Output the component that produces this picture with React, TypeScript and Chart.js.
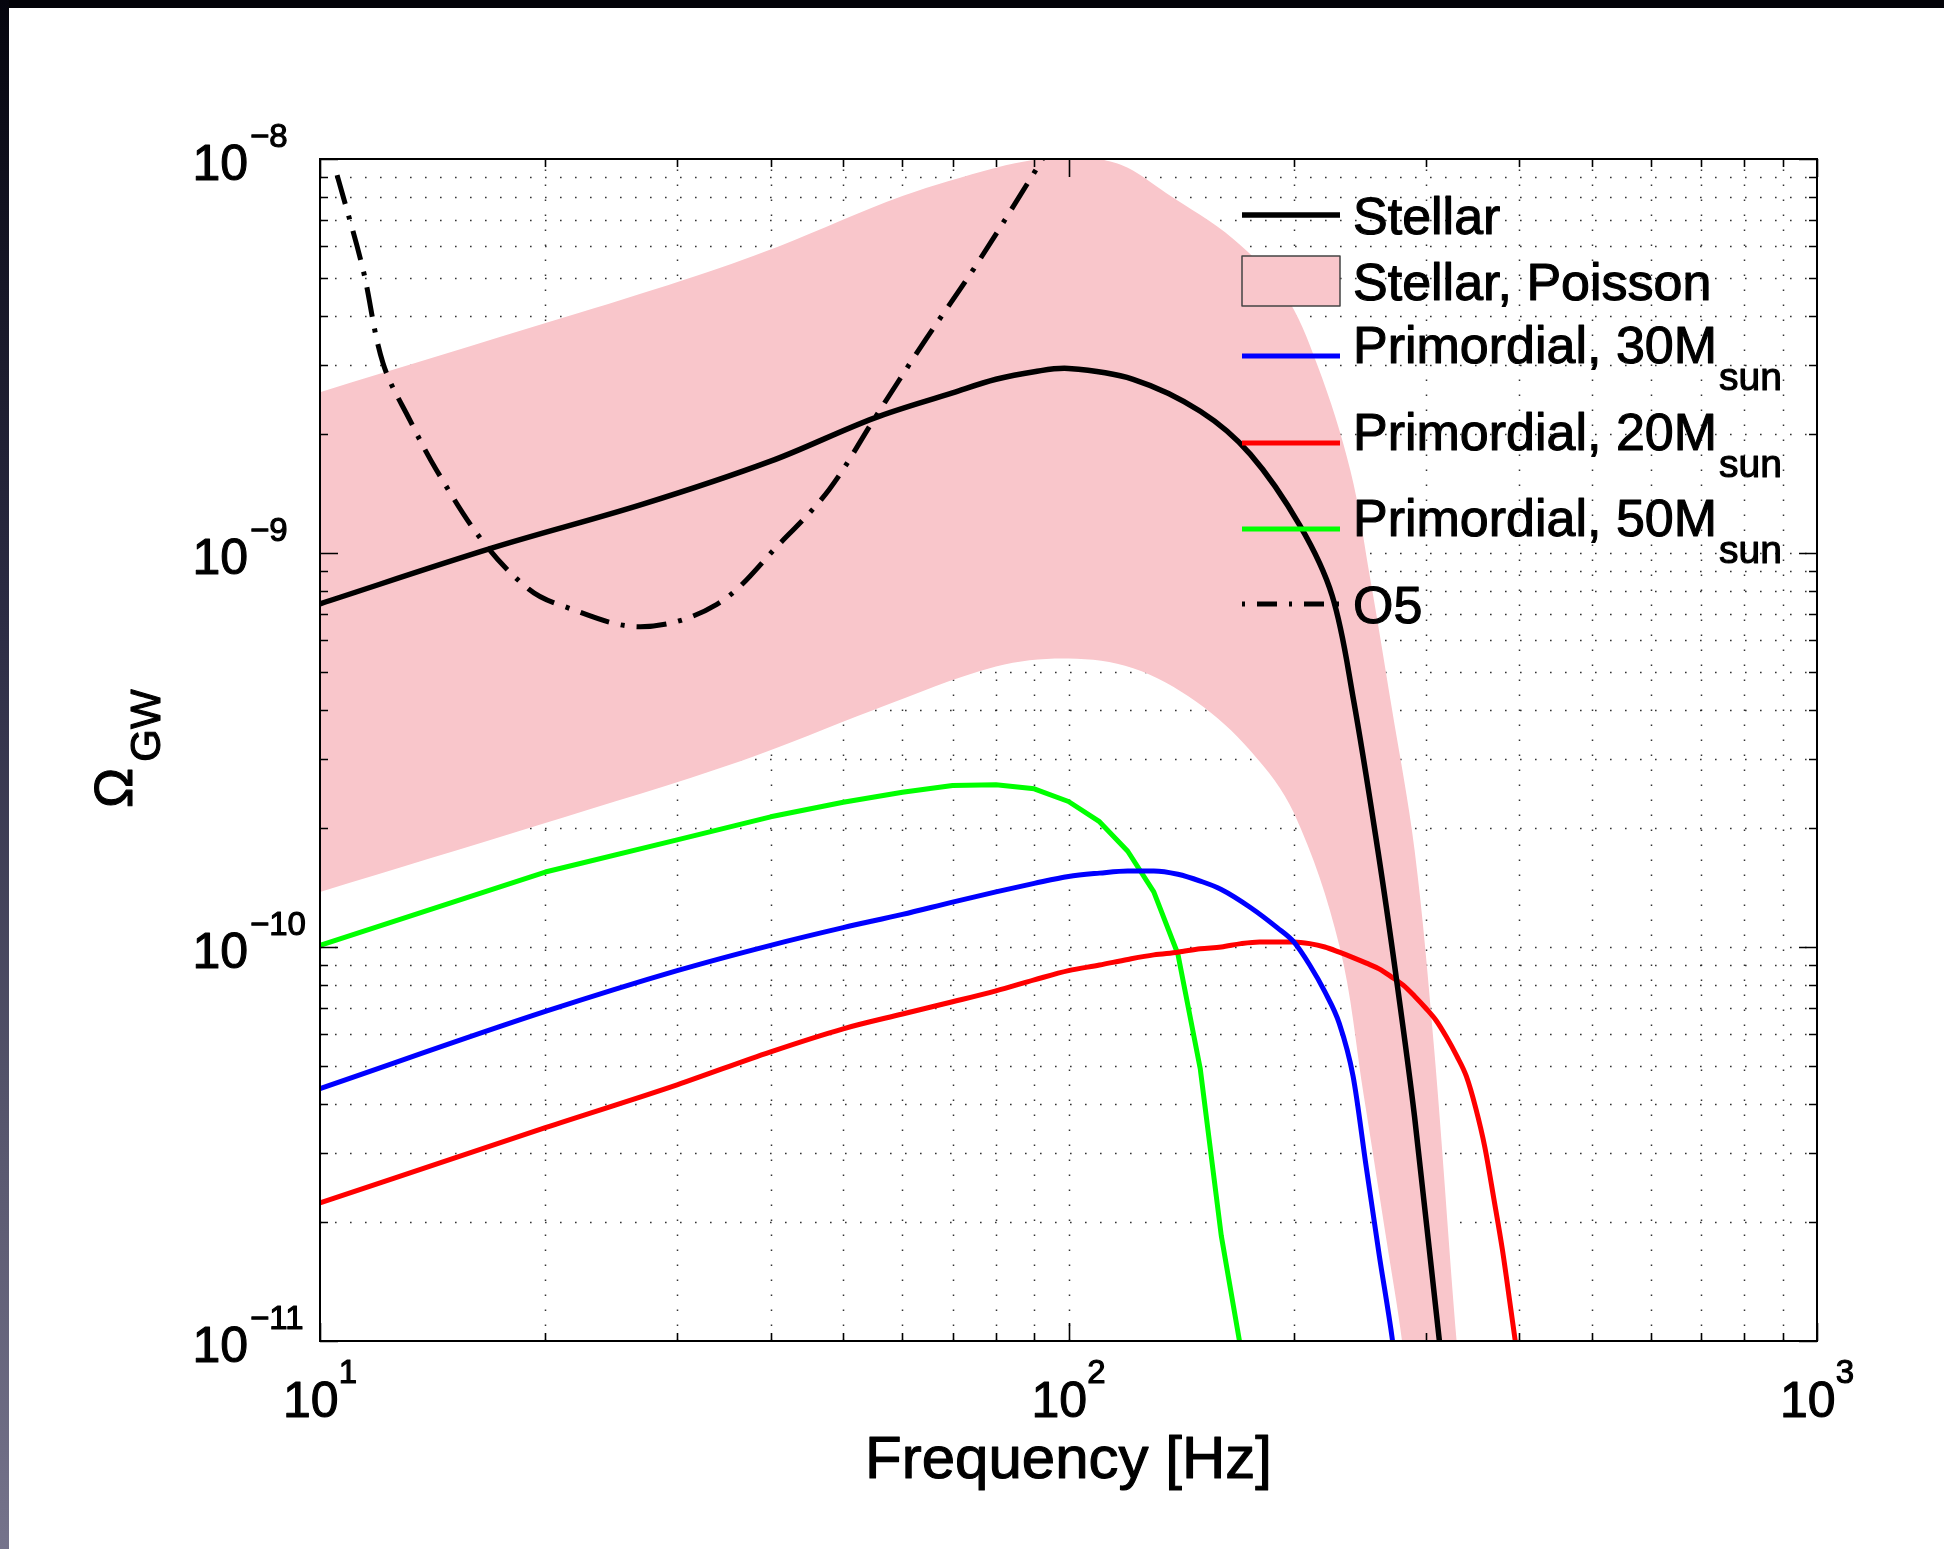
import React, { useEffect, useRef } from "react";
import { Chart, registerables } from "chart.js";

Chart.register(...registerables);

// ---------------- data ----------------
const stellarFreq = [10, 17, 27, 40, 55, 70, 80, 90, 100, 122, 150, 175, 204, 225, 240, 259, 274, 290, 313, 320];
const stellarOmega = [7.43e-10, 1.03e-9, 1.33e-9, 1.71e-9, 2.2e-9, 2.55e-9, 2.76e-9, 2.885e-9, 2.94e-9, 2.76e-9, 2.29e-9, 1.78e-9, 1.17e-9, 7.8e-10, 4.3e-10, 1.76e-10, 8.4e-11, 3.7e-11, 1.0e-11, 7.5e-12];

const poissonUpperFreq = [10, 21, 30.6, 41, 60, 80, 90, 100, 110, 120, 135, 166, 194, 215, 238, 253, 270, 290, 308, 330, 345, 400];
const poissonUpperOmega = [2.56e-9, 3.94e-9, 4.93e-9, 6.0e-9, 8.05e-9, 9.5e-9, 9.95e-9, 1.03e-8, 1.0e-8, 9.5e-9, 8.2e-9, 6.27e-9, 4.57e-9, 3.0e-9, 1.62e-9, 8.6e-10, 4.1e-10, 1.76e-10, 5.5e-11, 1.0e-11, 4e-12, 1e-13];

const poissonLowerFreq = [10, 19.6, 36.6, 55, 80, 100, 122, 148, 175, 200, 230, 248, 266, 279, 290, 400];
const poissonLowerOmega = [1.38e-10, 2.04e-10, 2.97e-10, 4.0e-10, 5.15e-10, 5.4e-10, 5.1e-10, 4.2e-10, 3.15e-10, 2.19e-10, 1.01e-10, 4.2e-11, 1.8e-11, 1.0e-11, 5e-12, 1e-13];

const prim30Freq = [10, 20, 30, 40, 50, 60, 70, 80, 90, 100, 110, 120, 130, 140, 150, 160, 175, 190, 200, 210, 220, 230, 240, 250, 260, 271, 280];
const prim30Omega = [4.37e-11, 6.86e-11, 8.71e-11, 1.01e-10, 1.12e-10, 1.21e-10, 1.3e-10, 1.38e-10, 1.45e-10, 1.51e-10, 1.54e-10, 1.56e-10, 1.56e-10, 1.53e-10, 1.47e-10, 1.4e-10, 1.26e-10, 1.12e-10, 1.03e-10, 9.0e-11, 7.7e-11, 6.4e-11, 4.7e-11, 2.75e-11, 1.66e-11, 1.0e-11, 6e-12];

const prim20Freq = [10, 20, 30, 40, 50, 60, 70, 80, 90, 100, 110, 120, 130, 140, 150, 160, 170, 180, 190, 200, 210, 220, 230, 240, 250, 260, 270, 280, 290, 300, 310, 320, 330, 340, 350, 360, 370, 380, 390, 400];
const prim20Omega = [2.24e-11, 3.48e-11, 4.47e-11, 5.42e-11, 6.2e-11, 6.76e-11, 7.26e-11, 7.74e-11, 8.25e-11, 8.71e-11, 9.0e-11, 9.3e-11, 9.55e-11, 9.7e-11, 9.9e-11, 1.0e-10, 1.02e-10, 1.03e-10, 1.03e-10, 1.03e-10, 1.02e-10, 1.0e-10, 9.7e-11, 9.4e-11, 9.1e-11, 8.8e-11, 8.4e-11, 8.0e-11, 7.5e-11, 7.0e-11, 6.5e-11, 5.9e-11, 5.3e-11, 4.7e-11, 3.9e-11, 3.1e-11, 2.3e-11, 1.7e-11, 1.2e-11, 8.5e-12];

const prim50Freq = [10, 20, 30, 40, 50, 60, 70, 80, 90, 100, 110, 120, 130, 140, 150, 160, 170];
const prim50Omega = [1.01e-10, 1.55e-10, 1.87e-10, 2.14e-10, 2.33e-10, 2.47e-10, 2.57e-10, 2.58e-10, 2.52e-10, 2.34e-10, 2.08e-10, 1.75e-10, 1.38e-10, 9.6e-11, 4.9e-11, 1.85e-11, 9.5e-12];

const o5Freq = [10.54, 11.4, 12.14, 13.19, 14.32, 16.5, 19.0, 21.0, 26.8, 33.9, 41.2, 47.9, 55.1, 64.5, 74.8, 90.2, 95];
const o5Omega = [9.1e-9, 5.3e-9, 3.03e-9, 2.17e-9, 1.62e-9, 1.07e-9, 8.1e-10, 7.36e-10, 6.5e-10, 7.41e-10, 1.06e-9, 1.45e-9, 2.2e-9, 3.49e-9, 5.28e-9, 9.3e-9, 1.1e-8];

const xMajorTicks = [10, 100, 1000];
const xMajorExponents = ["1", "2", "3"];
const xMinorTicks = [20, 30, 40, 50, 60, 70, 80, 90, 200, 300, 400, 500, 600, 700, 800, 900];
const yMajorTicks = [1e-11, 1e-10, 1e-9, 1e-8];
const yMajorExponents = ["\u221211", "\u221210", "\u22129", "\u22128"];
const yMinorTicks = [
  2e-11, 3e-11, 4e-11, 5e-11, 6e-11, 7e-11, 8e-11, 9e-11,
  2e-10, 3e-10, 4e-10, 5e-10, 6e-10, 7e-10, 8e-10, 9e-10,
  2e-9, 3e-9, 4e-9, 5e-9, 6e-9, 7e-9, 8e-9, 9e-9,
];

const xAxisTitle = "Frequency [Hz]";
const yAxisSymbol = "\u03A9";
const yAxisSubscript = "GW";

const legendLabels = ["Stellar", "Stellar, Poisson", "Primordial, 30M", "Primordial, 20M", "Primordial, 50M", "O5"];
const legendSubscripts = ["", "", "sun", "sun", "sun", ""];

// ---------------- styles ----------------
const FONT = "'Liberation Sans', Arial, Helvetica, sans-serif";
const PINK = "#F9C6CB";
const BLUE = "#0000FF";
const RED = "#FF0000";
const GREEN = "#00FF00";
const DASHDOT = [30, 12, 4, 12];

const pts = (f: number[], o: number[]) => f.map((v, i) => ({ x: v, y: o[i] }));

const legendKinds = ["line", "patch", "line", "line", "line", "dashdot"];
const legendColors = ["#000000", PINK, BLUE, RED, GREEN, "#000000"];
const legendRowOffsets = [56, 122, 197, 284, 370, 445];

function heavyText(ctx: CanvasRenderingContext2D, s: string, x: number, y: number) {
  ctx.fillText(s, x, y);
  ctx.strokeText(s, x, y);
}

const matlabPlugin = {
  id: "matlabLook",
  beforeDatasetsDraw(chart: any) {
    const { ctx, chartArea: a, scales } = chart;
    const x = scales.x, y = scales.y;
    ctx.save();
    ctx.strokeStyle = "rgba(30,30,30,0.9)";
    ctx.lineWidth = 1.5;
    ctx.setLineDash([1.6, 13.4]);
    [...xMajorTicks, ...xMinorTicks].forEach((v) => {
      const px = Math.round(x.getPixelForValue(v)) + 0.5;
      if (px <= a.left + 2 || px >= a.right - 2) return;
      ctx.beginPath();
      ctx.moveTo(px, a.bottom);
      ctx.lineTo(px, a.top);
      ctx.stroke();
    });
    [...yMajorTicks, ...yMinorTicks].forEach((v) => {
      const py = Math.round(y.getPixelForValue(v)) + 0.5;
      if (py <= a.top + 2 || py >= a.bottom - 2) return;
      ctx.beginPath();
      ctx.moveTo(a.left, py);
      ctx.lineTo(a.right, py);
      ctx.stroke();
    });
    ctx.restore();
  },
  afterDatasetsDraw(chart: any) {
    const { ctx, chartArea: a, scales } = chart;
    const x = scales.x, y = scales.y;
    ctx.save();
    ctx.setLineDash([]);
    ctx.strokeStyle = "#000";
    ctx.lineWidth = 1.6;
    const tick = (v: number, major: boolean, horiz: boolean) => {
      const L = major ? 18 : 8;
      ctx.beginPath();
      if (horiz) {
        const px = Math.round(x.getPixelForValue(v)) + 0.5;
        ctx.moveTo(px, a.bottom); ctx.lineTo(px, a.bottom - L);
        ctx.moveTo(px, a.top); ctx.lineTo(px, a.top + L);
      } else {
        const py = Math.round(y.getPixelForValue(v)) + 0.5;
        ctx.moveTo(a.left, py); ctx.lineTo(a.left + L, py);
        ctx.moveTo(a.right, py); ctx.lineTo(a.right - L, py);
      }
      ctx.stroke();
    };
    xMajorTicks.forEach((v) => tick(v, true, true));
    xMinorTicks.forEach((v) => tick(v, false, true));
    yMajorTicks.forEach((v) => tick(v, true, false));
    yMinorTicks.forEach((v) => tick(v, false, false));
    ctx.lineWidth = 2;
    ctx.strokeRect(a.left, a.top, a.right - a.left, a.bottom - a.top);
    ctx.restore();
  },
  afterDraw(chart: any) {
    const { ctx, chartArea: a, scales } = chart;
    const x = scales.x, y = scales.y;
    ctx.save();
    ctx.fillStyle = "#000";
    ctx.strokeStyle = "#000";
    ctx.lineWidth = 1.1;
    ctx.lineJoin = "round";
    ctx.textBaseline = "alphabetic";

    // x tick labels
    xMajorTicks.forEach((v, i) => {
      const px = x.getPixelForValue(v);
      ctx.font = `50px ${FONT}`;
      const wb = ctx.measureText("10").width;
      ctx.font = `33px ${FONT}`;
      const we = ctx.measureText(xMajorExponents[i]).width;
      const start = px - (wb + we) / 2;
      const base = a.bottom + 76;
      ctx.textAlign = "left";
      ctx.font = `50px ${FONT}`;
      heavyText(ctx, "10", start, base);
      ctx.font = `33px ${FONT}`;
      heavyText(ctx, xMajorExponents[i], start + wb, base - 34);
    });

    // y tick labels
    yMajorTicks.forEach((v, i) => {
      const py = y.getPixelForValue(v);
      const base = py + 21;
      ctx.textAlign = "right";
      ctx.font = `50px ${FONT}`;
      heavyText(ctx, "10", a.left - 72, base);
      ctx.textAlign = "left";
      ctx.font = `33px ${FONT}`;
      heavyText(ctx, yMajorExponents[i], a.left - 70, base - 33);
    });

    // x title
    ctx.textAlign = "center";
    ctx.font = `60px ${FONT}`;
    heavyText(ctx, xAxisTitle, (a.left + a.right) / 2, a.bottom + 137);

    // y title (rotated)
    ctx.save();
    ctx.translate(a.left - 188, (a.top + a.bottom) / 2 + 58);
    ctx.rotate(-Math.PI / 2);
    ctx.textAlign = "left";
    ctx.font = `54px ${FONT}`;
    heavyText(ctx, yAxisSymbol, 0, 0);
    const wo = ctx.measureText(yAxisSymbol).width;
    ctx.font = `42px ${FONT}`;
    heavyText(ctx, yAxisSubscript, wo + 6, 28);
    ctx.restore();

    // legend
    const x0 = a.right - 575, x1 = a.right - 477, tx = a.right - 464;
    legendLabels.forEach((label, i) => {
      const cy = a.top + legendRowOffsets[i];
      const kind = legendKinds[i];
      ctx.save();
      if (kind === "patch") {
        ctx.fillStyle = legendColors[i];
        ctx.fillRect(x0, cy - 25, x1 - x0, 50);
        ctx.strokeStyle = "#444";
        ctx.lineWidth = 1.5;
        ctx.strokeRect(x0, cy - 25, x1 - x0, 50);
      } else {
        ctx.strokeStyle = legendColors[i];
        ctx.lineWidth = kind === "dashdot" ? 5 : i === 0 ? 5.5 : 5;
        ctx.lineCap = "butt";
        ctx.setLineDash(kind === "dashdot" ? [3, 12, 20, 12] : []);
        ctx.beginPath();
        ctx.moveTo(x0, cy);
        ctx.lineTo(x1, cy);
        ctx.stroke();
      }
      ctx.restore();
      const sub = legendSubscripts[i];
      const base = sub ? cy + 7 : cy + 19;
      ctx.textAlign = "left";
      ctx.font = `52px ${FONT}`;
      heavyText(ctx, label, tx, base);
      if (sub) {
        const w = ctx.measureText(label).width;
        ctx.font = `39px ${FONT}`;
        heavyText(ctx, sub, tx + w + 2, base + 27);
      }
    });
    ctx.restore();
  },
};

export default function App() {
  const canvasRef = useRef<HTMLCanvasElement | null>(null);

  useEffect(() => {
    document.body.style.margin = "0";
    const canvas = canvasRef.current;
    if (!canvas) return;
    const W = 1944, H = 1549;
    const plotLeft = 320, plotTop = 159, plotRight = 1817, plotBottom = 1341;

    const common = { pointRadius: 0, pointHoverRadius: 0, clip: 0, borderCapStyle: "butt", borderJoinStyle: "round" };
    const smooth = { cubicInterpolationMode: "default", tension: 0.35 };

    const chart = new Chart(canvas, {
      type: "line",
      data: {
        datasets: [
          { label: "Stellar", data: pts(stellarFreq, stellarOmega), borderColor: "#000", borderWidth: 5.5, fill: false, order: 1, ...smooth, ...common },
          { label: "Primordial, 30Msun", data: pts(prim30Freq, prim30Omega), borderColor: BLUE, borderWidth: 5, cubicInterpolationMode: "monotone", fill: false, order: 2, ...common },
          { label: "Primordial, 20Msun", data: pts(prim20Freq, prim20Omega), borderColor: RED, borderWidth: 5, cubicInterpolationMode: "monotone", fill: false, order: 3, ...common },
          { label: "Primordial, 50Msun", data: pts(prim50Freq, prim50Omega), borderColor: GREEN, borderWidth: 5, tension: 0, fill: false, order: 4, ...common },
          { label: "O5", data: pts(o5Freq, o5Omega), borderColor: "#000", borderWidth: 5, borderDash: DASHDOT, fill: false, order: 0, ...smooth, ...common },
          { label: "Stellar, Poisson (upper)", data: pts(poissonUpperFreq, poissonUpperOmega), borderWidth: 0, borderColor: "rgba(0,0,0,0)", backgroundColor: PINK, fill: 6, order: 10, ...smooth, ...common },
          { label: "Stellar, Poisson (lower)", data: pts(poissonLowerFreq, poissonLowerOmega), borderWidth: 0, borderColor: "rgba(0,0,0,0)", fill: false, order: 11, ...smooth, ...common },
        ] as any,
      },
      options: {
        responsive: false,
        maintainAspectRatio: false,
        devicePixelRatio: 1,
        animation: false,
        events: [],
        layout: { padding: { left: plotLeft, top: plotTop, right: W - plotRight, bottom: H - plotBottom } },
        plugins: { legend: { display: false }, tooltip: { enabled: false }, title: { display: false } },
        scales: {
          x: { type: "logarithmic", min: 10, max: 1000, display: false },
          y: { type: "logarithmic", min: 1e-11, max: 1e-8, display: false },
        },
      } as any,
      plugins: [matlabPlugin],
    });
    return () => chart.destroy();
  }, []);

  return (
    <div style={{ position: "relative", width: 1944, height: 1549, background: "#fff", overflow: "hidden" }}>
      <div style={{ position: "absolute", left: 0, top: 0, width: 1944, height: 8, background: "#030308" }} />
      <div style={{ position: "absolute", left: 0, top: 0, width: 9, height: 1549, background: "linear-gradient(to bottom, #05050e 0%, #2c2c44 40%, #5a5970 75%, #75738b 100%)" }} />
      <canvas ref={canvasRef} width={1944} height={1549} style={{ position: "absolute", left: 0, top: 0, display: "block" }} />
    </div>
  );
}
